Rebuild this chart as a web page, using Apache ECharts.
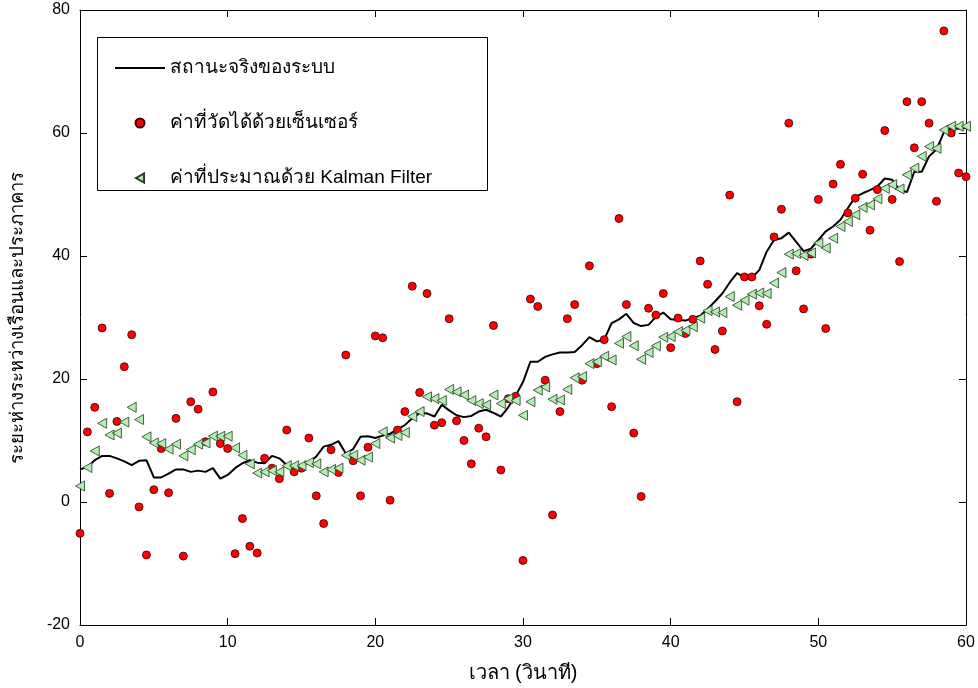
<!DOCTYPE html>
<html>
<head>
<meta charset="utf-8">
<title>Kalman Filter</title>
<script src="https://cdn.jsdelivr.net/npm/echarts@6/dist/echarts.min.js"></script>
<style>
  html, body { margin: 0; padding: 0; background: #fff; }
  #chart { width: 978px; height: 688px; }
</style>
</head>
<body>
<div id="chart"></div>
<script>
// time axis (seconds), one sample every 0.5 s
var times = [
  0, 0.5, 1, 1.5, 2, 2.5, 3, 3.5, 4, 4.5, 5, 5.5, 6, 6.5, 7, 7.5, 8, 8.5, 9, 9.5,
  10, 10.5, 11, 11.5, 12, 12.5, 13, 13.5, 14, 14.5, 15, 15.5, 16, 16.5, 17, 17.5, 18, 18.5, 19, 19.5,
  20, 20.5, 21, 21.5, 22, 22.5, 23, 23.5, 24, 24.5, 25, 25.5, 26, 26.5, 27, 27.5, 28, 28.5, 29, 29.5,
  30, 30.5, 31, 31.5, 32, 32.5, 33, 33.5, 34, 34.5, 35, 35.5, 36, 36.5, 37, 37.5, 38, 38.5, 39, 39.5,
  40, 40.5, 41, 41.5, 42, 42.5, 43, 43.5, 44, 44.5, 45, 45.5, 46, 46.5, 47, 47.5, 48, 48.5, 49, 49.5,
  50, 50.5, 51, 51.5, 52, 52.5, 53, 53.5, 54, 54.5, 55, 55.5, 56, 56.5, 57, 57.5, 58, 58.5, 59, 59.5,
  60
];

// true state of the system
var trueState = [
  5.3, 5.7, 6.8, 7.5, 7.5, 7.1, 6.6, 6.0, 6.7, 6.8, 4.0, 4.0, 4.6, 5.3, 5.3, 4.9, 5.1, 4.9, 5.5, 3.8,
  4.4, 5.5, 6.3, 6.8, 6.4, 6.3, 7.5, 7.1, 6.0, 5.8, 6.0, 6.4, 7.4, 9.0, 9.3, 9.9, 7.9, 8.6, 10.6, 10.7,
  10.4, 10.8, 11.1, 11.8, 12.5, 13.6, 14.5, 14.4, 13.9, 15.8, 14.9, 14.1, 13.8, 14.0, 14.7, 15.0, 14.5, 13.9, 15.4, 17.3,
  19.5, 22.8, 22.8, 23.6, 24.0, 24.3, 24.3, 24.4, 25.5, 26.8, 26.1, 26.4, 29.1, 29.7, 30.6, 29.1, 28.6, 28.8, 30.1, 30.8,
  29.7, 29.6, 29.5, 29.9, 30.3, 31.4, 32.6, 33.9, 35.7, 37.2, 36.5, 36.5, 37.7, 40.7, 42.6, 42.9, 43.8, 42.3, 40.8, 41.2,
  42.6, 44.0, 44.8, 45.9, 47.8, 49.6, 50.2, 50.7, 51.3, 52.6, 52.4, 50.7, 50.4, 53.7, 53.7, 56.2, 57.3, 60.1, 60.8, 60.7,
  60.8
];

// sensor measurements
var measured = [
  -5.1, 11.4, 15.4, 28.3, 1.4, 13.1, 22.0, 27.2, -0.8, -8.6, 2.0, 8.7, 1.5, 13.6, -8.8, 16.3, 15.1, 9.8, 17.9, 9.5,
  8.7, -8.4, -2.7, -7.2, -8.3, 7.1, 5.5, 3.8, 11.7, 4.9, 5.5, 10.4, 1.0, -3.5, 8.5, 4.8, 23.9, 6.7, 1.0, 8.9,
  27.0, 26.7, 0.3, 11.7, 14.7, 35.1, 17.8, 33.9, 12.5, 12.9, 29.8, 13.2, 10.0, 6.2, 12.0, 10.6, 28.7, 5.2, 16.8, 17.2,
  -9.5, 33.0, 31.8, 19.8, -2.1, 14.7, 29.8, 32.1, 19.8, 38.4, 22.5, 26.4, 15.5, 46.1, 32.1, 11.2, 0.9, 31.5, 30.4, 33.9,
  25.1, 29.9, 27.4, 29.7, 39.2, 35.4, 24.8, 27.8, 49.9, 16.3, 36.6, 36.6, 31.9, 28.9, 43.1, 47.6, 61.6, 37.6, 31.4, 40.3,
  49.2, 28.2, 51.7, 54.9, 47.0, 49.4, 53.3, 44.2, 50.8, 60.4, 49.2, 39.1, 65.1, 57.6, 65.1, 61.6, 48.9, 76.6, 60.0, 53.5,
  52.9
];

// Kalman filter estimates
var estimated = [
  2.6, 5.6, 8.3, 12.8, 10.9, 11.2, 13.0, 15.4, 13.4, 10.6, 9.6, 9.5, 8.6, 9.4, 7.5, 8.5, 9.4, 9.6, 10.7, 10.7,
  10.7, 8.8, 7.6, 6.2, 4.7, 4.9, 5.1, 4.9, 5.9, 5.9, 5.9, 6.4, 6.2, 4.9, 5.3, 5.5, 7.6, 7.6, 6.8, 7.3,
  9.5, 11.4, 10.4, 10.8, 11.3, 13.9, 14.7, 17.1, 16.8, 16.5, 18.3, 17.9, 17.4, 16.5, 16.0, 15.8, 17.4, 16.0, 16.8, 16.5,
  14.1, 16.3, 18.2, 18.7, 16.7, 16.6, 18.3, 20.2, 20.4, 22.5, 22.8, 23.7, 23.1, 25.8, 26.9, 25.4, 23.2, 24.3, 25.4, 26.8,
  26.9, 27.7, 27.9, 28.5, 29.9, 31.1, 30.9, 30.8, 33.4, 32.0, 32.8, 33.8, 34.0, 33.9, 35.6, 37.3, 40.3, 40.4, 40.1, 40.5,
  42.1, 41.3, 42.9, 44.8, 45.6, 46.7, 47.9, 48.3, 49.3, 51.0, 51.6, 50.9, 53.2, 54.3, 56.2, 57.8, 57.5, 60.5, 61.1, 61.1,
  61.1
];

var names = ['สถานะจริงของระบบ', 'ค่าที่วัดได้ด้วยเซ็นเซอร์', 'ค่าที่ประมาณด้วย Kalman Filter'];
var xTitle = 'เวลา (วินาที)';
var yTitle = 'ระยะห่างระหว่างเรือนและประภาคาร';

function pairs(vals) {
  return times.map(function (t, i) { return [t, vals[i]]; });
}

var numFont = '"Liberation Sans", Arial, sans-serif';
var thaiFont = 'Tahoma, "Liberation Sans", "DejaVu Sans", sans-serif';
var leftTri = 'path://M0,5L9,0L9,10Z';

var chart = echarts.init(document.getElementById('chart'), null, { renderer: 'canvas' });

function axisBase(extra) {
  var a = {
    type: 'value',
    axisLine: { show: true, onZero: false, lineStyle: { color: '#000', width: 1 } },
    axisTick: { show: true, inside: true, length: 7, lineStyle: { color: '#000' } },
    splitLine: { show: false },
    axisLabel: { show: false }
  };
  for (var k in extra) a[k] = extra[k];
  return a;
}

var option = {
  backgroundColor: '#ffffff',
  animation: false,
  grid: { left: 77, right: 12, top: 10, bottom: 63, containLabel: false },
  xAxis: [
    axisBase({
      min: 0, max: 60, interval: 10, position: 'bottom',
      axisLabel: { show: true, color: '#000', fontSize: 16, fontFamily: numFont, margin: 10 },
      name: xTitle, nameLocation: 'middle', nameGap: 38,
      nameTextStyle: { color: '#000', fontSize: 20, fontFamily: thaiFont }
    }),
    axisBase({ min: 0, max: 60, interval: 10, position: 'top' })
  ],
  yAxis: [
    axisBase({
      min: -20, max: 80, interval: 20, position: 'left',
      axisLabel: { show: true, color: '#000', fontSize: 16, fontFamily: numFont, margin: 10 },
      name: yTitle, nameLocation: 'middle', nameGap: 53, nameRotate: 90,
      nameTextStyle: { color: '#000', fontSize: 18.5, fontFamily: thaiFont }
    }),
    axisBase({ min: -20, max: 80, interval: 20, position: 'right' })
  ],
  graphic: [{
    type: 'rect',
    z: 3,
    shape: { x: 97.5, y: 37.5, width: 390, height: 153 },
    style: { fill: '#fff', stroke: '#000', lineWidth: 1 }
  }],
  legend: {
    orient: 'vertical',
    left: 115,
    top: 57,
    padding: 0,
    itemWidth: 50,
    itemHeight: 9,
    itemGap: 33,
    z: 5,
    textStyle: { color: '#000', fontSize: 19, lineHeight: 22, fontFamily: thaiFont },
    data: [
      { name: names[0], icon: 'path://M0,0L50,0L50,2L0,2Z' },
      { name: names[1] },
      { name: names[2] }
    ]
  },
  series: [
    {
      name: names[0],
      type: 'line',
      data: pairs(trueState),
      symbol: 'none',
      lineStyle: { color: '#000', width: 2 },
      itemStyle: { color: '#000' },
      z: 2
    },
    {
      name: names[1],
      type: 'scatter',
      data: pairs(measured),
      symbol: 'circle',
      symbolSize: 8,
      itemStyle: { color: '#ff0000', borderColor: '#3a0000', borderWidth: 0.8, opacity: 1 },
      z: 3
    },
    {
      name: names[2],
      type: 'scatter',
      data: pairs(estimated),
      symbol: leftTri,
      symbolSize: [9, 10],
      itemStyle: { color: '#b4ecb4', borderColor: '#1f3f1f', borderWidth: 0.8, opacity: 1 },
      z: 4
    }
  ]
};

chart.setOption(option);
</script>
</body>
</html>
